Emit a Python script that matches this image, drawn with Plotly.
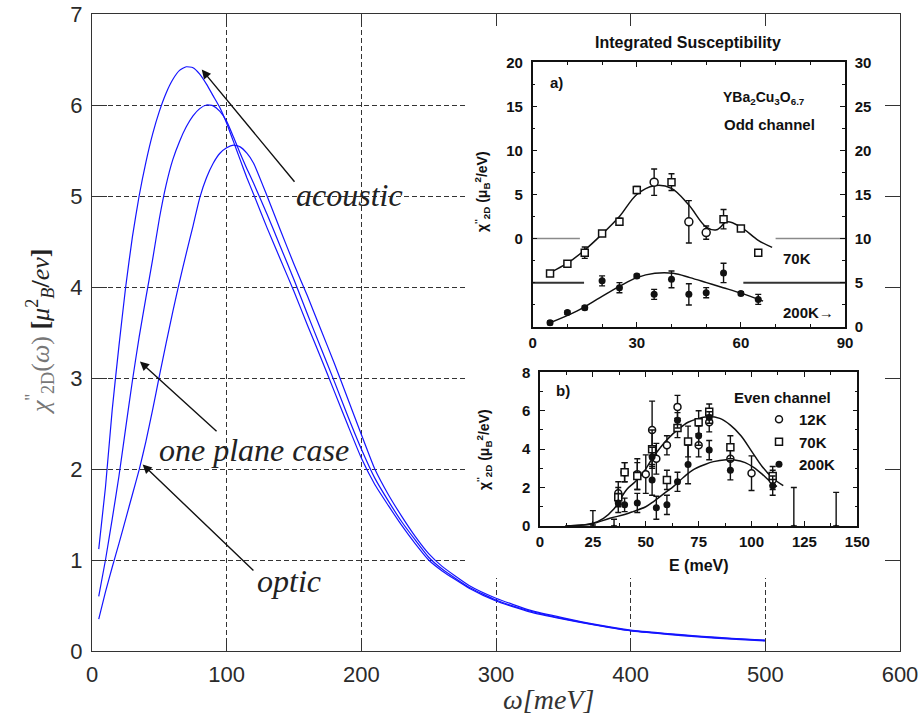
import plotly.graph_objects as go

# ---------------- main figure data ----------------
omega = [5, 10, 15, 20, 25, 30, 35, 40, 45, 50, 55, 60, 65, 70, 75, 80, 85, 90, 95, 100,
         105, 110, 115, 120, 130, 140, 150, 160, 170, 180, 190, 200, 210, 220, 230, 240,
         250, 260, 280, 300, 325, 350, 375, 400, 425, 450, 475, 500]
chi_acoustic = [1.12, 1.8, 2.65, 3.35, 4.0, 4.55, 5.0, 5.37, 5.68, 5.93, 6.13, 6.28, 6.38, 6.42,
                6.41, 6.34, 6.23, 6.1, 5.97, 5.8, 5.6, 5.4, 5.2, 5.02, 4.65, 4.3, 3.95, 3.58,
                3.22, 2.85, 2.48, 2.12, 1.83, 1.6, 1.38, 1.18, 1.0, 0.88, 0.69, 0.55, 0.43,
                0.35, 0.28, 0.22, 0.185, 0.155, 0.13, 0.11]
chi_oneplane = [0.6, 1.0, 1.45, 1.92, 2.45, 2.97, 3.45, 3.88, 4.3, 4.75, 5.12, 5.4, 5.6, 5.76,
                5.88, 5.96, 6.0, 5.99, 5.93, 5.82, 5.65, 5.47, 5.3, 5.14, 4.8, 4.44, 4.08, 3.7,
                3.33, 2.96, 2.58, 2.22, 1.9, 1.65, 1.42, 1.22, 1.03, 0.9, 0.7, 0.56, 0.44,
                0.355, 0.285, 0.225, 0.19, 0.16, 0.135, 0.115]
chi_optic = [0.35, 0.65, 0.92, 1.18, 1.45, 1.72, 1.99, 2.3, 2.65, 3.02, 3.38, 3.73, 4.06, 4.37,
             4.67, 4.98, 5.2, 5.36, 5.47, 5.53, 5.56, 5.54, 5.47, 5.36, 5.0, 4.62, 4.25, 3.9,
             3.53, 3.16, 2.77, 2.38, 2.0, 1.72, 1.48, 1.26, 1.07, 0.93, 0.72, 0.58, 0.45,
             0.365, 0.29, 0.23, 0.195, 0.165, 0.14, 0.12]
main_xticks = [0, 100, 200, 300, 400, 500, 600]
main_yticks = [0, 1, 2, 3, 4, 5, 6, 7]

# ---------------- inset a) : odd channel ----------------
odd70_sq_x = [5, 10, 15, 20, 25, 30, 40, 55, 60, 65]
odd70_sq_y = [-3.95, -2.85, -1.6, 0.57, 1.9, 5.5, 6.4, 2.2, 1.14, -1.6]
odd70_sq_err = [0.3, 0.3, 0.65, 0.3, 0.4, 0.4, 0.95, 1.1, 0.3, 0.3]
odd70_ci_x = [35, 45, 50]
odd70_ci_y = [6.4, 1.9, 0.68]
odd70_ci_err = [1.5, 2.4, 0.75]
odd70_fit_x = [4, 5, 10, 15, 20, 25, 30, 35, 40, 45, 50, 53, 56, 60, 65, 69]
odd70_fit_y = [-4.2, -3.9, -2.8, -1.3, 0.5, 2.5, 5.0, 6.0, 5.7, 3.8, 1.3, 1.0, 1.9, 1.3, -0.2, -1.0]
odd70_base_x = [0, 13.6, None, 70, 90]
odd70_base_y = [0, 0, None, 0, 0]

odd200_x = [5, 10, 15, 20, 25, 30, 35, 40, 45, 50, 55, 60, 65]
odd200_y = [0.45, 1.6, 2.16, 5.2, 4.43, 5.75, 3.67, 5.37, 3.67, 3.86, 6.1, 3.78, 3.1]
odd200_err = [0.2, 0.2, 0.2, 0.57, 0.57, 0.2, 0.57, 0.95, 1.2, 0.57, 1.1, 0.2, 0.57]
odd200_fit_x = [5, 12.7, 19.4, 25.1, 30, 35.2, 40.5, 45.3, 50.1, 54.9, 60.2, 66.4]
odd200_fit_y = [0.45, 1.77, 3.3, 4.6, 5.57, 6.06, 6.06, 5.57, 5.0, 4.43, 3.78, 2.9]
odd200_base_x = [0, 14.8, None, 60.7, 90]
odd200_base_y = [5, 5, None, 5, 5]

# ---------------- inset b) : even channel ----------------
even12_x = [37, 40, 46, 50, 53, 55, 60, 65, 75, 80, 90, 100, 110]
even12_y = [1.7, 2.8, 2.7, 2.7, 5.0, 3.5, 4.2, 6.2, 4.2, 5.4, 3.5, 2.75, 2.4]
even12_e = [0.6, 0.5, 0.8, 1.0, 1.5, 0.8, 0.5, 0.6, 0.6, 0.5, 0.6, 0.9, 0.5]
even70_x = [37, 40, 46, 53, 60, 65, 70, 75, 80, 90, 110]
even70_y = [1.5, 2.8, 2.6, 4.0, 2.4, 5.1, 4.4, 5.4, 5.95, 4.1, 2.6]
even70_e = [0.5, 0.5, 0.7, 1.0, 0.5, 0.5, 0.8, 0.6, 0.4, 0.6, 0.5]
even200_x = [37, 40, 46, 53, 53, 55, 60, 65, 65, 70, 75, 80, 80, 90, 110]
even200_y = [1.2, 1.1, 1.2, 3.6, 2.4, 0.95, 1.1, 2.3, 5.5, 3.2, 4.7, 3.95, 5.65, 2.9, 2.1]
even200_e = [0.5, 0.35, 0.5, 0.5, 0.8, 0.6, 0.5, 0.5, 0.4, 1.0, 0.5, 0.5, 0.3, 0.5, 0.5]
even_ul_x = [25, 35, 120, 140]
even_ul_y = [0.05, 0.0, 0.0, 0.0]
even_ul_e = [0.75, 0.35, 2.0, 1.75]
even_fit_hi_x = [12, 20, 25, 30, 35, 41, 45, 49, 53, 57, 61, 65, 70, 75, 80, 85, 90, 95, 100, 105, 110, 115]
even_fit_hi_y = [0.0, 0.05, 0.14, 0.4, 0.9, 1.9, 2.3, 2.8, 3.5, 4.1, 4.6, 5.0, 5.4, 5.6, 5.7, 5.6, 5.25, 4.7, 3.9, 3.1, 2.5, 2.1]
even_fit_lo_x = [12, 20, 25, 33, 40, 44, 50, 54, 60, 63, 68, 72, 78, 82, 88, 92, 97, 101, 105, 108, 112]
even_fit_lo_y = [0.0, 0.05, 0.12, 0.4, 0.6, 0.75, 1.0, 1.3, 1.8, 2.05, 2.55, 2.9, 3.2, 3.35, 3.45, 3.44, 3.3, 3.05, 2.7, 2.4, 2.05]

# ---------------- geometry helpers (pixel -> paper) ----------------
W, H = 922, 717
L, R, T, B = 92, 900, 14, 651


def px(x):
    return (x - L) / (R - L)


def py(y):
    return (B - y) / (B - T)


INK = "#111111"
SANS = "Liberation Sans"
SERIF = "Liberation Serif"

fig = go.Figure()

# main curves
for yy in (chi_acoustic, chi_oneplane, chi_optic):
    fig.add_trace(go.Scatter(x=omega, y=yy, mode="lines", xaxis="x", yaxis="y",
                             line=dict(color="#1414ff", width=1.2, shape="spline", smoothing=0.5),
                             showlegend=False, hoverinfo="skip"))

# white cover subplot (hides main grid behind the inset picture)
fig.add_trace(go.Scatter(x=[None], y=[None], xaxis="x2", yaxis="y2", showlegend=False,
                         hoverinfo="skip"))

# ---- inset a) traces ----
fig.add_trace(go.Scatter(x=odd70_base_x, y=odd70_base_y, xaxis="x3", yaxis="y3", mode="lines",
                         line=dict(color="#8a8a8a", width=1.5), showlegend=False, hoverinfo="skip"))
fig.add_trace(go.Scatter(x=odd200_base_x, y=odd200_base_y, xaxis="x3", yaxis="y4", mode="lines",
                         line=dict(color="#333333", width=2), showlegend=False, hoverinfo="skip"))
fig.add_trace(go.Scatter(x=odd70_fit_x, y=odd70_fit_y, xaxis="x3", yaxis="y3", mode="lines",
                         line=dict(color=INK, width=1.5, shape="spline"), showlegend=False))
fig.add_trace(go.Scatter(x=odd200_fit_x, y=odd200_fit_y, xaxis="x3", yaxis="y4", mode="lines",
                         line=dict(color=INK, width=1.5, shape="spline"), showlegend=False))
eb = dict(type="data", color=INK, thickness=1.4, width=3)
fig.add_trace(go.Scatter(x=odd70_sq_x, y=odd70_sq_y, xaxis="x3", yaxis="y3", mode="markers",
                         error_y=dict(array=odd70_sq_err, **eb),
                         marker=dict(symbol="square", size=7, color="white", line=dict(color=INK, width=1.5)),
                         showlegend=False))
fig.add_trace(go.Scatter(x=odd70_ci_x, y=odd70_ci_y, xaxis="x3", yaxis="y3", mode="markers",
                         error_y=dict(array=odd70_ci_err, **eb),
                         marker=dict(symbol="circle", size=8, color="white", line=dict(color=INK, width=1.5)),
                         showlegend=False))
fig.add_trace(go.Scatter(x=odd200_x, y=odd200_y, xaxis="x3", yaxis="y4", mode="markers",
                         error_y=dict(array=odd200_err, **eb),
                         marker=dict(symbol="circle", size=7, color=INK),
                         showlegend=False))

# ---- inset b) traces ----
fig.add_trace(go.Scatter(x=even_fit_hi_x, y=even_fit_hi_y, xaxis="x4", yaxis="y5", mode="lines",
                         line=dict(color=INK, width=1.5, shape="spline"), showlegend=False))
fig.add_trace(go.Scatter(x=even_fit_lo_x, y=even_fit_lo_y, xaxis="x4", yaxis="y5", mode="lines",
                         line=dict(color=INK, width=1.5, shape="spline"), showlegend=False))
fig.add_trace(go.Scatter(x=even_ul_x, y=even_ul_y, xaxis="x4", yaxis="y5", mode="markers",
                         error_y=dict(array=even_ul_e, arrayminus=[0] * len(even_ul_e), **eb),
                         marker=dict(symbol="circle", size=3, color=INK), showlegend=False))
fig.add_trace(go.Scatter(x=even12_x, y=even12_y, xaxis="x4", yaxis="y5", mode="markers", name="12K",
                         error_y=dict(array=even12_e, **eb),
                         marker=dict(symbol="circle", size=7, color="white", line=dict(color=INK, width=1.5))))
fig.add_trace(go.Scatter(x=even70_x, y=even70_y, xaxis="x4", yaxis="y5", mode="markers", name="70K",
                         error_y=dict(array=even70_e, **eb),
                         marker=dict(symbol="square", size=7, color="white", line=dict(color=INK, width=1.5))))
fig.add_trace(go.Scatter(x=even200_x, y=even200_y, xaxis="x4", yaxis="y5", mode="markers", name="200K",
                         error_y=dict(array=even200_e, **eb),
                         marker=dict(symbol="circle", size=7, color=INK)))

# ---------------- axes ----------------
main_font = dict(family=SANS, size=22, color="#2a2a2a")
grid = dict(showgrid=True, gridcolor="#333333", gridwidth=1.2, griddash="5px,3px")
fig.update_layout(
    xaxis=dict(range=[0, 600], tickvals=main_xticks, showline=True, linecolor="#333333", linewidth=1.4,
               mirror="ticks", ticks="inside", ticklen=12, tickcolor="#333333", tickwidth=1.2,
               tickfont=main_font, zeroline=False, ticklabelstandoff=3, domain=[0, 1], anchor="y",
               **grid),
    yaxis=dict(range=[0, 7], tickvals=main_yticks, showline=True, linecolor="#333333", linewidth=1.4,
               mirror="ticks", ticks="inside", ticklen=15, tickcolor="#333333", tickwidth=1.2,
               tickfont=main_font, zeroline=False, ticklabelstandoff=4, domain=[0, 1], anchor="x",
               **grid),
    xaxis2=dict(domain=[px(466), px(885)], anchor="y2", visible=False, range=[0, 1]),
    yaxis2=dict(domain=[py(578), py(26)], anchor="x2", visible=False, range=[0, 1]),
)

ins_font = dict(family=SANS, size=15, color=INK, weight="bold")
ins_common = dict(showline=True, linecolor=INK, linewidth=1.5, ticks="inside", ticklen=5,
                  tickcolor=INK, tickwidth=1.3, showgrid=False, zeroline=False, tickfont=ins_font)
fig.update_layout(
    xaxis3=dict(domain=[px(532.7), px(845)], anchor="y3", range=[0, 90], tickvals=[0, 30, 60, 90],
                mirror="ticks", minor=dict(ticks="inside", ticklen=3, dtick=10, tickcolor=INK),
                ticklabelstandoff=2, **ins_common),
    yaxis3=dict(domain=[py(326.7), py(62.3)], anchor="x3", range=[-10, 20], tickvals=[0, 5, 10, 15, 20],
                mirror=True, minor=dict(ticks="inside", ticklen=3, tickvals=[-7.5, -5, -2.5, 2.5, 7.5, 12.5, 17.5],
                                         tickcolor=INK),
                ticklabelstandoff=5, **ins_common),
    yaxis4=dict(overlaying="y3", side="right", anchor="x3", range=[0, 30], tickvals=[0, 5, 10, 15, 20, 25, 30],
                minor=dict(ticks="inside", ticklen=3, dtick=2.5, tickcolor=INK),
                ticklabelstandoff=5, **ins_common),
    xaxis4=dict(domain=[px(540), px(857.3)], anchor="y5", range=[0, 150], dtick=25, mirror="ticks",
                minor=dict(ticks="inside", ticklen=3, dtick=12.5, tickcolor=INK),
                ticklabelstandoff=1, **ins_common),
    yaxis5=dict(domain=[py(526), py(372.3)], anchor="x4", range=[0, 8], dtick=2, mirror="ticks",
                minor=dict(ticks="inside", ticklen=3, dtick=1, tickcolor=INK),
                ticklabelstandoff=5, **ins_common),
)

# ---------------- annotations ----------------
ann = []
serif_it = dict(family=SERIF, size=32, color="#222222")
# arrows (head -> tail in data coords of main axes)
for hx, hy, tx, ty in [(81.5, 6.39, 151.3, 5.14), (35.6, 3.18, 93.6, 2.40), (37.6, 2.05, 121.0, 0.87)]:
    ann.append(dict(x=hx, y=hy, ax=tx, ay=ty, xref="x", yref="y", axref="x", ayref="y", text="",
                    showarrow=True, arrowhead=2, arrowsize=1.3, arrowwidth=1.4, arrowcolor="#111111"))
for txt, cx, cy in [("acoustic", 349, 195), ("one plane case", 254, 450), ("optic", 289, 581)]:
    ann.append(dict(x=px(cx), y=py(cy), xref="paper", yref="paper", text="<i>" + txt + "</i>",
                    showarrow=False, font=serif_it, xanchor="center", yanchor="middle"))
# main axis titles
ann.append(dict(x=px(548), y=py(699), xref="paper", yref="paper", text="<i>ω[meV]</i>", showarrow=False,
                font=dict(family=SERIF, size=28, color="#333333"), xanchor="center", yanchor="middle"))
ann.append(dict(x=px(40), y=py(332), xref="paper", yref="paper", textangle=-90, showarrow=False,
                text="<span style='color:#777777'><i>χ</i><sup>''</sup><sub>2D</sub>(<i>ω</i>)</span> "
                     "<b>[</b><i>μ</i><sup>2</sup><sub><i>B</i></sub><b>/</b><i>ev</i><b>]</b>",
                font=dict(family=SERIF, size=26, color="#222222"), xanchor="center", yanchor="middle"))

bold = dict(family=SANS, color=INK, weight="bold")
for txt, cx, cy, sz, ang in [
    ("Integrated Susceptibility", 688, 43, 16, 0),
    ("a)", 556, 82, 15, 0),
    ("YBa<sub>2</sub>Cu<sub>3</sub>O<sub>6.7</sub>", 764, 98, 14, 0),
    ("Odd channel", 769, 124, 15, 0),
    ("70K", 797, 258, 15, 0),
    ("200K→", 808, 312, 15, 0),
    ("χ<sup>''</sup><sub>2D</sub> (μ<sub>B</sub><sup>2</sup>/eV)", 482, 192, 14, -90),
    ("b)", 563, 390, 15, 0),
    ("Even channel", 782, 397, 15, 0),
    ("E (meV)", 699, 565, 16, 0),
    ("χ<sup>''</sup><sub>2D</sub> (μ<sub>B</sub><sup>2</sup>/eV)", 484, 450, 14, -90),
]:
    ann.append(dict(x=px(cx), y=py(cy), xref="paper", yref="paper", text=txt, showarrow=False,
                    textangle=ang, font=dict(size=sz, **bold), xanchor="center", yanchor="middle"))

fig.update_layout(
    width=W, height=H,
    margin=dict(l=L, r=W - R, t=T, b=H - B, pad=0, autoexpand=False),
    paper_bgcolor="white", plot_bgcolor="white",
    annotations=ann,
    showlegend=True,
    legend=dict(x=px(759), y=py(403), xanchor="left", yanchor="top", bgcolor="rgba(0,0,0,0)",
                font=dict(family=SANS, size=15, color=INK, weight="bold"), tracegroupgap=0,
                itemwidth=30, borderwidth=0),
)

fig.write_html("out.html")
